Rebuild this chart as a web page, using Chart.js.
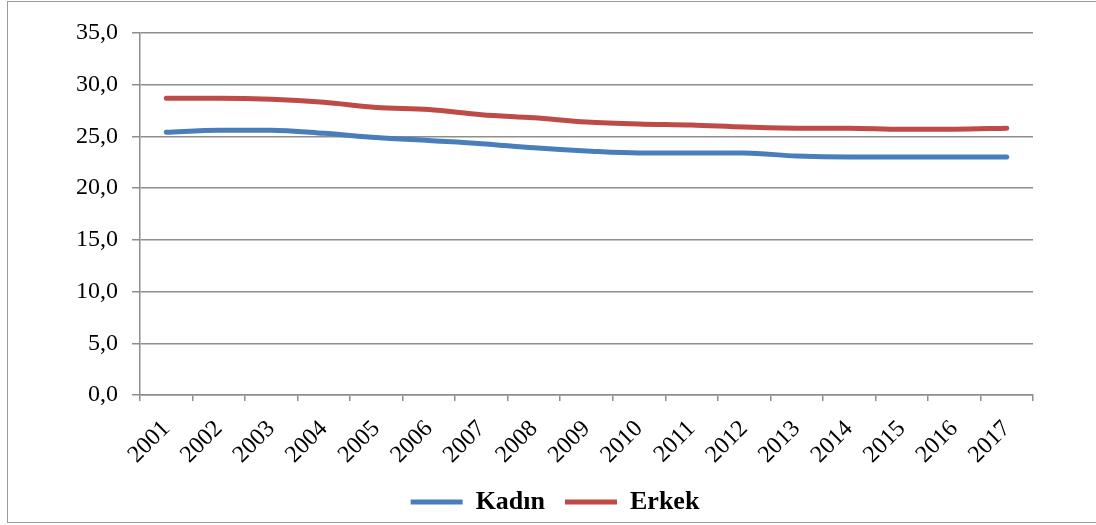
<!DOCTYPE html>
<html>
<head>
<meta charset="utf-8">
<script src="https://cdn.jsdelivr.net/npm/chart.js@4"></script>
<style>
  html, body { margin: 0; padding: 0; background: #ffffff; }
  #wrap { position: relative; width: 1096px; height: 525px; overflow: hidden; }
  #frame { position: absolute; left: 7px; top: 1px; width: 1200px; height: 522px; border: 1.5px solid #9a9a9a; box-sizing: border-box; }
  #c { position: absolute; left: 0; top: 0; }
</style>
</head>
<body>
<div id="wrap">
  <div id="frame"></div>
  <canvas id="c" width="1096" height="525"></canvas>
</div>
<script>
const years = ['2001','2002','2003','2004','2005','2006','2007','2008','2009','2010','2011','2012','2013','2014','2015','2016','2017'];
const kadin = [25.4, 25.6, 25.6, 25.3, 24.9, 24.6, 24.3, 23.9, 23.6, 23.4, 23.4, 23.4, 23.1, 23.0, 23.0, 23.0, 23.0];
const erkek = [28.7, 28.7, 28.6, 28.3, 27.8, 27.6, 27.1, 26.8, 26.4, 26.2, 26.1, 25.9, 25.8, 25.8, 25.7, 25.7, 25.8];
const seriesNames = ['Kadın', 'Erkek'];
const yTicks = [0, 5, 10, 15, 20, 25, 30, 35];

const gridColor = '#8e8e8e';

new Chart(document.getElementById('c'), {
  type: 'line',
  data: {
    labels: years,
    datasets: [
      { label: seriesNames[0], data: kadin, borderColor: '#4a7ebb', backgroundColor: '#4a7ebb',
        borderWidth: 5, pointRadius: 0, cubicInterpolationMode: 'monotone', borderCapStyle: 'round', fill: false },
      { label: seriesNames[1], data: erkek, borderColor: '#be4b48', backgroundColor: '#be4b48',
        borderWidth: 5, pointRadius: 0, cubicInterpolationMode: 'monotone', borderCapStyle: 'round', fill: false }
    ]
  },
  options: {
    responsive: false,
    animation: false,
    layout: { padding: { left: 77, right: 63, top: 33, bottom: 0 } },
    plugins: {
      legend: {
        position: 'bottom',
        labels: {
          usePointStyle: true,
          pointStyle: 'line',
          pointStyleWidth: 52,
          padding: 20,
          color: '#000',
          font: { family: '"Liberation Serif", "Times New Roman", serif', size: 26, weight: 'bold' }
        }
      },
      tooltip: { enabled: false }
    },
    scales: {
      x: {
        offset: true,
        grid: { display: true, drawOnChartArea: false, drawTicks: true, tickLength: 6, color: gridColor, lineWidth: 1.5, offset: true },
        border: { display: true, color: gridColor, width: 1.5 },
        ticks: {
          color: '#000', minRotation: 45, maxRotation: 45, autoSkip: false, padding: 14,
          font: { family: '"Liberation Serif", "Times New Roman", serif', size: 24 }
        },
        afterFit: (s) => { s.height = 74; }
      },
      y: {
        min: 0, max: 35,
        afterBuildTicks: (s) => { s.ticks = yTicks.map(v => ({ value: v })); },
        grid: { color: gridColor, lineWidth: 1.5, tickLength: 8, drawTicks: true },
        border: { display: true, color: gridColor, width: 1.5 },
        ticks: {
          color: '#000', padding: 14,
          font: { family: '"Liberation Serif", "Times New Roman", serif', size: 24 },
          callback: (v) => Number(v).toFixed(1).replace('.', ',')
        },
        afterFit: (s) => { s.width = 63; }
      }
    }
  }
});
</script>
</body>
</html>
